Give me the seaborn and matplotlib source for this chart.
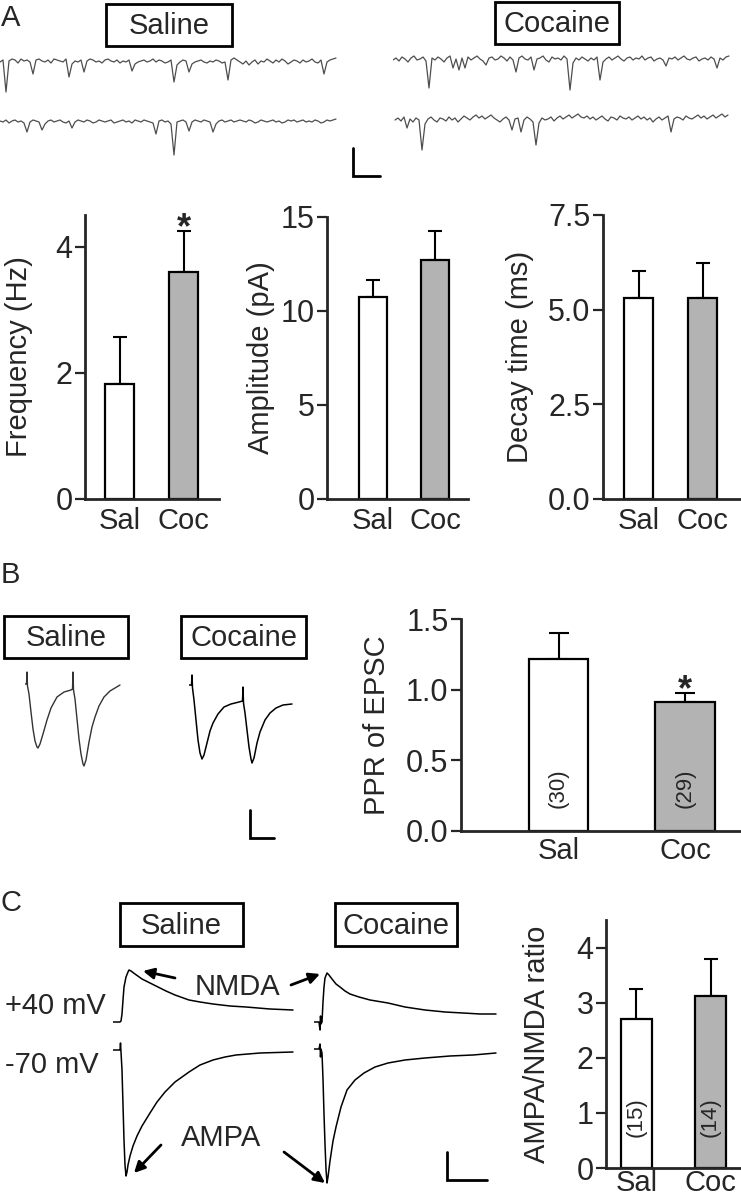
import numpy as np
import matplotlib
matplotlib.use('Agg')
import matplotlib.pyplot as plt
import seaborn as sns
from matplotlib.patches import Rectangle

sns.set_style('ticks')
plt.rcParams['font.family'] = ['Liberation Sans', 'DejaVu Sans']
FS, FS_TICK, FS_N = 21, 22, 16

W, H = 741, 1199

# ---- bar chart data ----
groups = ['Sal', 'Coc']
bar_colors = {'Sal': 'white', 'Coc': '#b3b3b3'}

freq_mean = [1.83, 3.59]
freq_sem = [0.73, 0.65]
amp_mean = [10.74, 12.7]
amp_sem = [0.91, 1.55]
decay_mean = [5.32, 5.30]
decay_sem = [0.70, 0.92]
ppr_mean = [1.215, 0.91]
ppr_sem = [0.185, 0.065]
ppr_n = ['(30)', '(29)']
ratio_mean = [2.71, 3.13]
ratio_sem = [0.54, 0.67]
ratio_n = ['(15)', '(14)']

# ---- sEPSC sweeps (panel A), one sample every 3 ms ----
sal_top = [0, 2, -30, 1, 3, 2, -1, 3, 1, 2,
           0, -12, 2, 3, 1, 0, 2, -1, 3, 2,
           1, 0, 3, -15, -2, 1, 0, 2, -10, 1,
           3, 2, 0, 1, -1, 2, 3, 1, 0, 2,
           -1, 1, 0, 2, -9, -2, 0, 1, 2, 0,
           1, 3, 0, 2, 1, -1, 0, 2, -20, -3,
           0, 2, 1, -10, -2, 0, 1, 2, 0, -1,
           1, 0, 2, 1, -1, 0, -18, 2, 4, 2,
           0, -2, 1, -3, 0, 2, -2, 1, 0, 3,
           1, -1, 2, 0, 3, 1, -2, 0, 2, 1,
           -1, 2, 0, 1, 3, 0, -1, 2, -12, 0,
           2, 3, 4]
sal_bot = [1, 0, 2, -1, 1, 2, 0, 1, -1, -10,
           0, 2, 1, 0, -8, -2, 1, 2, 0, 1,
           2, 0, -1, 1, -6, 0, 2, 1, 0, 2,
           1, -1, 0, 2, 1, 0, 1, 2, -1, 0,
           1, 2, 0, 1, -1, 2, 1, 0, 2, 1,
           0, -1, -12, 1, 2, 0, 1, -2, -33, 0,
           1, 2, 0, -9, 0, 2, 1, 0, 2, 1,
           0, -10, -2, 1, 2, 0, 1, 2, 0, 1,
           2, 1, 0, 2, 1, -1, 0, 2, 1, 0,
           1, 2, 0, 1, -1, 0, 2, 1, 2, 0,
           1, 2, 0, 1, 0, 2, 1, -1, 0, 2,
           1, 2, 3]
coc_top = [0, 2, -1, 3, 1, -2, 2, 4, 0, 1,
           3, -1, -28, 2, 0, 3, 1, -2, 2, 4,
           -8, 1, -10, 2, -8, 3, 0, 2, 4, 1,
           -1, -5, 2, 3, 0, 1, 4, 2, -1, 3,
           0, -12, 2, 4, 1, 0, 3, -10, 1, 2,
           4, 0, -2, 3, 1, 2, 0, 4, 1, -30,
           -3, 2, 0, 3, 1, -1, 2, 0, 3, -20,
           -2, 1, 3, 0, 2, 4, 1, -1, 2, 3,
           0, 2, 1, 4, 0, 2, 3, -1, 1, 2,
           0, -6, 2, 1, 3, 0, 2, 4, 1, 0,
           2, 3, -1, 1, 2, 0, 3, 1, -8, 2,
           0, 3, 4]
coc_bot = [0, 2, -1, 3, -8, 1, -2, 2, 0, -30,
           -4, 1, 3, 0, -2, 2, 1, -1, 3, 0,
           2, -2, 1, 4, 2, 0, 3, 5, 2, 4,
           1, 3, 5, 2, 0, -2, 1, 3, 0, -10,
           1, 2, -12, 0, 3, 1, -2, -25, -3, 2,
           0, 1, 3, -1, 2, 4, 1, 3, 5, 2,
           4, 6, 3, 2, 4, 1, 3, 0, 2, 4,
           1, -1, 3, 2, 0, 4, 2, 1, 3, 0,
           2, 4, 1, 3, 0, 2, -2, 1, 3, 0,
           2, 4, -12, 1, 3, 2, 0, 4, 2, 1,
           3, 5, 2, 4, 1, 3, 5, 2, 4, 6,
           3, 5]

# ---- paired-pulse EPSCs (panel B) ----
ppr_sal_t = [0, 1.5, 2, 2.5, 4, 6, 8, 10, 12, 13, 15, 18, 22, 26, 32, 39, 46,
             47.5, 48, 48.5, 50, 52, 54, 56, 58, 59, 61, 64, 67, 70, 74, 79, 85, 90, 95]
ppr_sal_v = [0, 0, 12, -2, -10, -28, -45, -57, -63, -64, -60, -50, -36, -24, -13, -8, -6,
             -5, 12, -6, -15, -35, -55, -70, -80, -82, -76, -58, -43, -33, -22, -13, -7, -4, -1]
ppr_coc_t = [0, 2.5, 3, 3.5, 5, 7, 9, 11, 13, 15, 18, 21, 24, 29, 35, 42, 50,
             53.5, 54, 54.5, 56, 58, 60, 62, 63, 65, 68, 71, 76, 81, 87, 94, 103]
ppr_coc_v = [0, 0, 10, -3, -15, -35, -55, -68, -74, -70, -58, -46, -38, -29, -22, -19, -17,
             -16, -2, -18, -28, -45, -62, -74, -78, -73, -58, -47, -35, -28, -23, -20, -19]

# ---- AMPA / NMDA EPSCs (panel C) ----
nmda_sal_t = [0, 7, 8, 9, 10, 11, 13, 15, 16, 18, 22, 29, 37, 45, 53, 62, 76, 87, 100,
              117, 133, 157, 180]
nmda_sal_v = [0, 0, 1, 8, 22, 35, 45, 50, 52, 51, 48, 43, 39, 35, 31, 27, 22, 20, 18,
              16, 15, 13, 12]
ampa_sal_t = [0, 7, 7.5, 8, 9, 10, 11, 12, 13, 14, 15, 17, 20, 24, 29, 37, 44, 52, 62,
              76, 87, 100, 112, 123, 147, 180]
ampa_sal_v = [0, 0, 7, -2, -20, -55, -90, -115, -126, -122, -115, -106, -96, -86, -76,
              -63, -52, -42, -32, -22, -15, -10, -7, -5, -3, -2]
nmda_coc_t = [0, 5, 6, 6.5, 7, 8, 9, 10, 11, 13, 15, 18, 22, 26, 31, 36, 45, 56, 74,
              91, 111, 131, 149, 166, 182]
nmda_coc_v = [0, 0, -8, 6, -2, 0, 20, 35, 44, 49, 47, 43, 38, 35, 31, 28, 25, 22, 19,
              15, 12, 10, 9, 8, 8]
ampa_coc_t = [0, 5, 6, 6.5, 7, 8, 9, 10, 11, 12, 13, 14, 16, 19, 22, 27, 33, 41, 50,
              61, 74, 91, 111, 136, 159, 182]
ampa_coc_v = [0, 0, 5, -8, 0, -4, -30, -65, -95, -120, -134, -128, -112, -92, -78, -58,
              -41, -31, -24, -18, -14, -11, -9, -7, -6, -4]

fig = plt.figure(figsize=(W / 100, H / 100), dpi=100)


def px_axes(l, t, r, b):
    return fig.add_axes([l / W, 1 - b / H, (r - l) / W, (b - t) / H])


def trace_axes(l, t, r, b, base):
    ax = px_axes(l, t, r, b)
    ax.set_xlim(0, r - l)
    ax.set_ylim(base - b, base - t)
    ax.axis('off')
    return ax


def bar_panel(box, mean, sem, ylim, yticks, ticklabels, ylabel, xlim, width,
              label_x, cap=5, xpad=6):
    ax = px_axes(*box)
    sns.barplot(x=groups, y=mean, hue=groups, palette=bar_colors, edgecolor='black',
                linewidth=1.6, width=width, errorbar=None, legend=False, ax=ax)
    ax.errorbar([0, 1], mean, yerr=[[0, 0], sem], fmt='none', ecolor='black',
                elinewidth=1.5, capsize=cap, capthick=1.5, zorder=0.5)
    ax.set_xlim(*xlim)
    ax.set_ylim(*ylim)
    ax.set_yticks(yticks)
    ax.set_yticklabels(ticklabels)
    sns.despine(ax=ax)
    for s in ['left', 'bottom']:
        ax.spines[s].set_linewidth(2)
    ax.tick_params(axis='y', length=7, width=1.6, labelsize=FS_TICK, pad=2)
    ax.tick_params(axis='x', length=0, labelsize=FS, pad=xpad)
    ax.set_xlabel('')
    ax.set_ylabel(ylabel, fontsize=FS)
    ax.yaxis.set_label_coords(label_x, 0.5)
    return ax


# panel A bars
ax_f = bar_panel((85, 215, 219, 499), freq_mean, freq_sem, (0, 4.5), [0, 2, 4],
                 ['0', '2', '4'], 'Frequency (Hz)', (-0.54, 1.555), 0.45, -0.39)
ax_f.text(1, 4.14, '*', ha='center', va='baseline', fontsize=26, fontweight='bold')
bar_panel((327, 217, 468, 499), amp_mean, amp_sem, (0, 15), [0, 5, 10, 15],
          ['0', '5', '10', '15'], 'Amplitude (pA)', (-0.74, 1.53), 0.45, -0.37)
bar_panel((603, 215, 740, 499), decay_mean, decay_sem, (0, 7.5), [0, 2.5, 5, 7.5],
          ['0.0', '2.5', '5.0', '7.5'], 'Decay time (ms)', (-0.555, 1.586), 0.45, -0.5)

# panel B bars
ax_p = bar_panel((461, 619, 741, 831), ppr_mean, ppr_sem, (0, 1.5), [0, 0.5, 1.0, 1.5],
                 ['0.0', '0.5', '1.0', '1.5'], 'PPR of EPSC', (-0.77, 1.44), 0.47, -0.25,
                 cap=7, xpad=4)
ax_p.text(1, 0.925, '*', ha='center', va='baseline', fontsize=26, fontweight='bold')
for i, n in enumerate(ppr_n):
    ax_p.text(i, 0.30, n, rotation=90, ha='center', va='center', fontsize=FS_N)

# panel C bars
ax_r = bar_panel((606, 920, 741, 1168), ratio_mean, ratio_sem, (0, 4.5), [0, 1, 2, 3, 4],
                 ['0', '1', '2', '3', '4'], 'AMPA/NMDA ratio', (-0.41, 1.41), 0.42, -0.41,
                 xpad=1)
for i, n in enumerate(ratio_n):
    ax_r.text(i, 0.93, n, rotation=90, ha='center', va='center', fontsize=FS_N)

# panel A sweeps
trace_kw = dict(color='#4d4d4d', lw=0.9)
ax = trace_axes(0, 45, 340, 165, 122)
ax.plot(np.arange(len(sal_top)) * 3, np.array(sal_top) + 60, **trace_kw)
ax.plot(np.arange(len(sal_bot)) * 3, sal_bot, **trace_kw)
ax = trace_axes(393, 45, 735, 165, 120)
ax.plot(np.arange(len(coc_top)) * 3, np.array(coc_top) + 60, **trace_kw)
ax.plot(np.arange(len(coc_bot)) * 3 + 2, coc_bot, **trace_kw)

# panel B traces
ax = trace_axes(25, 655, 125, 790, 684)
ax.plot(ppr_sal_t, ppr_sal_v, color='#333333', lw=1)
ax = trace_axes(189, 655, 300, 790, 685)
ax.plot(ppr_coc_t, ppr_coc_v, color='black', lw=1.1)

# panel C traces
ax = trace_axes(113, 955, 300, 1195, 1050)
ax.plot(nmda_sal_t, np.array(nmda_sal_v) + 28, color='black', lw=1.1)
ax.plot(ampa_sal_t, ampa_sal_v, color='black', lw=1.1)
ax = trace_axes(314, 955, 500, 1195, 1049)
ax.plot(nmda_coc_t, np.array(nmda_coc_v) + 27, color='black', lw=1.1)
ax.plot(ampa_coc_t, ampa_coc_v, color='black', lw=1.1)

# overlay: panel letters, condition boxes, scale bars, arrows
ov = fig.add_axes([0, 0, 1, 1])
ov.set_xlim(0, W)
ov.set_ylim(H, 0)
ov.axis('off')

for letter, (x, y) in zip('ABC', [(1, 18), (1, 575), (1, 903)]):
    ov.text(x, y, letter, fontsize=FS, ha='left', va='center')

boxes = [('Saline', 106, 4, 232, 46), ('Cocaine', 495, 2, 619, 44),
         ('Saline', 4, 616, 128, 658), ('Cocaine', 181, 616, 306, 658),
         ('Saline', 120, 903, 243, 946), ('Cocaine', 335, 903, 457, 946)]
for name, l, t, r, b in boxes:
    ov.add_patch(Rectangle((l, t), r - l, b - t, fill=False, ec='black', lw=2))
    ov.text((l + r) / 2, (t + b) / 2 + 1, name, fontsize=FS, ha='center', va='center')

for x0, y0, y1, x1 in [(353, 148, 176, 380), (250, 810, 838, 274), (447, 1152, 1180, 487)]:
    ov.plot([x0, x0, x1], [y0, y1, y1], color='black', lw=2, solid_joinstyle='miter')

ov.text(5, 1006, '+40 mV', fontsize=FS, ha='left', va='center')
ov.text(5, 1065, '-70 mV', fontsize=FS, ha='left', va='center')
ov.text(237, 987, 'NMDA', fontsize=FS, ha='center', va='center')
ov.text(221, 1138, 'AMPA', fontsize=FS, ha='center', va='center')
arrow_kw = dict(arrowstyle='-|>', color='black', lw=2, mutation_scale=16,
                shrinkA=0, shrinkB=0)
for tail, head in [((175, 978), (143, 971)), ((291, 985), (320, 974)),
                   ((161, 1145), (134, 1173)), ((284, 1152), (325, 1183))]:
    ov.annotate('', xy=head, xytext=tail, arrowprops=arrow_kw)

fig.savefig('out.png', dpi=100)
